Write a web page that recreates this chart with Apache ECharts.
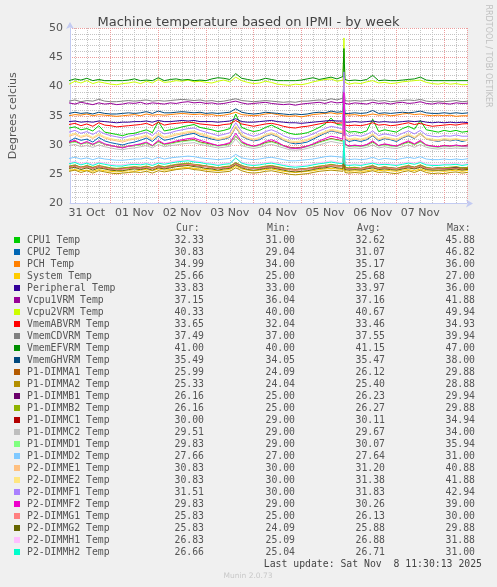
<!DOCTYPE html>
<html><head><meta charset="utf-8">
<script src="https://cdn.jsdelivr.net/npm/echarts@6/dist/echarts.min.js"></script>
<style>html,body{margin:0;padding:0;background:#F0F0F0;}#c{width:497px;height:587px;}</style>
</head><body><div id="c"></div>
<script>
// ---- categories / labels ----
const names = ['CPU1 Temp','CPU2 Temp','PCH Temp','System Temp','Peripheral Temp','Vcpu1VRM Temp','Vcpu2VRM Temp','VmemABVRM Temp','VmemCDVRM Temp','VmemEFVRM Temp','VmemGHVRM Temp','P1-DIMMA1 Temp','P1-DIMMA2 Temp','P1-DIMMB1 Temp','P1-DIMMB2 Temp','P1-DIMMC1 Temp','P1-DIMMC2 Temp','P1-DIMMD1 Temp','P1-DIMMD2 Temp','P2-DIMME1 Temp','P2-DIMME2 Temp','P2-DIMMF1 Temp','P2-DIMMF2 Temp','P2-DIMMG1 Temp','P2-DIMMG2 Temp','P2-DIMMH1 Temp','P2-DIMMH2 Temp'];
const colors = ['#00CC00','#0066B3','#FF8000','#FFCC00','#330099','#990099','#CCFF00','#FF0000','#808080','#008F00','#00487D','#B35A00','#B38F00','#6B006B','#8FB300','#B30000','#BEBEBE','#80FF80','#80C9FF','#FFC080','#FFE680','#AA80FF','#EE00CC','#FF8080','#666600','#FFBFFF','#00FFCC'];
const dayLabels = ['31 Oct','01 Nov','02 Nov','03 Nov','04 Nov','05 Nov','06 Nov','07 Nov'];
const yTicks = [20,25,30,35,40,45,50];
// legend statistics
const curVals = [32.33,30.83,34.99,25.66,33.83,37.15,40.33,33.65,37.49,41.00,35.49,25.99,25.33,26.16,26.16,30.00,29.51,29.83,27.66,30.83,30.83,31.51,29.83,25.83,25.83,26.83,26.66];
const minVals = [31.00,29.04,34.00,25.00,33.00,36.04,40.00,32.04,37.00,40.00,34.05,24.09,24.04,25.00,25.00,29.00,29.00,29.00,27.00,30.00,30.00,30.00,29.00,25.00,24.09,25.09,25.04];
const avgVals = [32.62,31.07,35.17,25.68,33.97,37.16,40.67,33.46,37.55,41.15,35.47,26.12,25.40,26.23,26.27,30.11,29.67,30.07,27.64,31.20,31.38,31.83,30.26,26.13,25.88,26.88,26.71];
const maxVals = [45.88,46.82,36.00,27.00,36.00,41.88,49.94,34.93,39.94,47.00,38.00,29.88,28.88,29.94,29.88,34.94,34.00,35.94,31.00,40.88,41.88,42.94,39.00,30.00,29.88,31.88,31.00];
// sample times, hours since 31 Oct 00:00
const hours = [3,6,9,12,15,18,21,24, 27,30,33,36,39,42,45,48, 51,54,57,60,63,66,69,72, 75,78,81,84,87,90,93,96, 99,102,105,108,111,114,117,120, 123,126,129,132,135,138,141,141.5,142,144, 147,150,153,156,159,162,165,168, 171,174,177,180,183,186,189,192, 195,198,201,204];
// ---- series values ----
const cpu1 = [32.9,33.1,32.6,32.8,32.4,33.3,32.2,32.0, 31.8,31.6,31.9,32.0,32.3,32.6,32.1,34.0, 32.4,32.6,32.8,33.1,33.3,33.5,33.0,32.8, 32.6,32.3,32.5,32.8,35.3,33.0,32.6,32.3, 32.5,33.0,33.4,32.9,32.4,32.0,31.8,31.9, 32.1,32.5,33.0,33.6,34.6,33.5,33.4,45.5,32.6,32.2, 32.3,32.1,32.4,34.4,32.3,32.6,32.4,32.2, 32.8,33.2,32.7,34.2,32.6,32.4,32.2,32.5, 32.3,32.5,32.2,32.33];
const cpu2 = [30.6,31.2,30.8,31.0,30.5,31.3,30.7,30.4, 30.2,30.0,30.3,30.5,30.8,31.2,30.6,31.5, 30.8,31.0,31.3,31.6,31.8,32.0,31.5,31.3, 31.0,30.8,31.0,31.3,33.0,31.5,31.0,30.7, 30.9,31.5,31.8,31.4,30.8,30.4,30.2,30.3, 30.5,31.0,31.5,32.0,32.4,32.2,31.9,46.0,31.0,30.6, 30.8,30.6,30.9,31.6,30.7,31.1,30.9,30.6, 31.2,31.6,31.1,32.0,31.0,30.8,30.6,30.9, 30.7,30.9,30.6,30.83];
const pch = [35.0,35.2,35.1,35.3,35.0,35.2,35.1,35.0, 34.9,35.0,35.1,35.2,35.0,35.3,35.1,35.2, 35.1,35.2,35.3,35.4,35.3,35.2,35.3,35.1, 35.2,35.0,35.1,35.3,35.6,35.2,35.1,35.0, 35.1,35.3,35.4,35.2,35.0,34.9,35.0,34.8, 35.0,35.2,35.3,35.4,35.5,35.3,35.4,35.8,35.2,35.1, 35.2,35.0,35.1,35.3,35.1,35.2,35.0,35.1, 35.3,35.4,35.2,35.3,35.1,35.0,35.1,35.0, 35.1,34.9,35.0,34.99];
const systemT = [25.7,25.8,25.6,25.7,25.5,25.8,25.6,25.5, 25.4,25.5,25.6,25.5,25.7,25.8,25.6,25.9, 25.7,25.8,25.9,26.1,26.2,26.0,25.9,25.8, 25.7,25.6,25.7,25.8,26.4,25.9,25.7,25.6, 25.7,25.8,25.9,25.7,25.5,25.4,25.3,25.4, 25.5,25.6,25.8,25.9,26.0,25.9,25.8,26.8,25.6,25.5, 25.6,25.5,25.6,25.8,25.6,25.7,25.6,25.5, 25.7,25.8,25.6,25.9,25.6,25.5,25.6,25.5, 25.6,25.7,25.5,25.66];
const peripheral = [34.0,34.1,33.9,34.0,33.9,34.1,34.0,33.9, 33.8,33.9,33.9,34.0,34.0,34.1,33.9,34.2, 34.0,34.0,34.1,34.2,34.1,34.2,34.0,34.0, 34.0,33.9,34.0,34.1,34.5,34.0,33.9,33.9, 34.0,34.1,34.2,34.0,33.9,33.8,33.8,33.7, 33.8,33.9,34.0,34.1,34.2,34.1,34.1,35.6,33.9,33.9, 34.0,33.9,34.0,34.1,33.9,34.0,33.9,33.9, 34.0,34.1,34.0,34.1,33.9,33.8,33.9,33.8, 33.9,33.8,33.9,33.83];
const vcpu1 = [37.2,37.0,37.3,37.1,36.9,37.2,37.0,37.1, 36.9,37.0,37.2,37.1,37.3,37.0,37.2,37.1, 37.0,37.2,37.1,37.3,37.4,37.2,37.3,37.1, 37.2,37.0,37.1,37.3,37.5,37.2,37.0,37.1, 37.2,37.3,37.1,37.0,36.9,37.0,36.8,37.0, 37.1,37.2,37.3,37.1,37.4,37.2,37.3,41.5,37.1,37.0, 37.2,37.1,37.0,37.3,37.1,37.2,37.0,37.2, 37.3,37.1,37.2,37.4,37.1,37.0,37.2,37.1, 37.0,37.2,37.1,37.15];
const vcpu2 = [40.4,40.9,40.6,41.0,40.5,40.8,40.6,40.4, 40.3,40.5,40.6,40.8,40.5,40.9,40.6,41.2, 40.7,40.8,41.0,40.9,41.1,40.8,40.9,40.7, 40.6,40.9,41.1,40.8,41.6,41.0,40.7,40.5, 40.6,40.9,40.7,40.4,40.3,40.2,40.4,40.3, 40.5,40.8,41.0,41.2,41.3,40.9,41.1,48.3,40.7,40.4, 40.6,40.5,40.8,41.0,40.6,40.7,40.5,40.6, 40.8,40.9,41.0,41.1,40.7,40.5,40.4,40.6, 40.4,40.5,40.3,40.33];
const vmemAB = [33.5,33.7,33.3,33.6,33.2,33.8,33.4,33.3, 33.1,33.2,33.3,33.4,33.5,33.7,33.3,33.9, 33.4,33.6,33.7,33.8,33.9,33.8,33.6,33.5, 33.4,33.3,33.5,33.6,34.2,33.6,33.4,33.2, 33.4,33.6,33.7,33.5,33.2,33.0,32.9,33.1, 33.2,33.4,33.6,33.8,33.9,33.7,33.8,34.6,33.4,33.3, 33.4,33.3,33.5,33.8,33.4,33.5,33.3,33.4, 33.6,33.8,33.5,33.7,33.4,33.2,33.3,33.4, 33.5,33.4,33.6,33.65];
const vmemCD = [37.5,37.7,37.4,37.6,37.5,37.8,37.5,37.4, 37.4,37.5,37.6,37.5,37.6,37.7,37.5,37.6, 37.5,37.6,37.7,37.8,37.7,37.6,37.7,37.5, 37.6,37.4,37.5,37.7,37.9,37.6,37.5,37.4, 37.5,37.6,37.5,37.4,37.3,37.4,37.3,37.5, 37.5,37.6,37.7,37.6,37.9,37.7,38.0,39.6,37.6,37.5, 37.6,37.5,37.6,37.7,37.5,37.6,37.4,37.5, 37.6,37.7,37.6,37.8,37.5,37.4,37.5,37.4, 37.5,37.6,37.4,37.49];
const vmemEF = [41.0,41.3,41.1,41.4,41.0,41.2,41.0,41.0, 41.0,41.0,41.1,41.3,41.0,41.1,41.0,41.5, 41.0,41.2,41.3,41.1,41.2,41.0,41.1,41.0, 41.3,41.5,41.4,41.2,42.2,41.4,41.2,41.0, 41.1,41.4,41.2,41.0,41.0,41.0,41.0,41.1, 41.3,41.5,41.2,41.4,41.6,41.3,41.7,46.5,41.2,41.0, 41.1,41.0,41.2,41.9,41.0,41.1,41.0,41.0, 41.1,41.2,41.3,41.6,41.1,41.0,41.0,41.0, 41.0,41.0,41.0,41.00];
const vmemGH = [35.4,35.6,35.4,35.5,35.3,35.6,35.4,35.3, 35.3,35.4,35.5,35.4,35.5,35.7,35.4,35.8, 35.5,35.5,35.6,35.7,35.6,35.5,35.6,35.4, 35.5,35.4,35.5,35.6,36.2,35.6,35.4,35.3, 35.4,35.6,35.5,35.4,35.3,35.2,35.3,35.2, 35.3,35.5,35.6,35.5,35.8,35.6,35.7,37.5,35.4,35.4, 35.5,35.4,35.5,35.9,35.4,35.5,35.4,35.5, 35.6,35.5,35.6,35.8,35.5,35.4,35.4,35.5, 35.4,35.5,35.4,35.49];
const dimmA1 = [26.2,26.4,26.1,26.3,26.0,26.3,26.1,25.9, 25.8,25.9,26.0,26.1,26.0,26.2,26.0,26.3, 26.1,26.3,26.5,26.6,26.7,26.5,26.4,26.3, 26.1,26.0,26.1,26.2,26.8,26.3,26.1,26.0, 26.0,26.2,26.3,26.1,25.9,25.8,25.7,25.8, 25.9,26.0,26.2,26.3,26.5,26.4,26.3,29.5,26.0,25.9, 26.0,25.9,26.1,26.3,26.0,26.1,26.0,25.9, 26.1,26.3,26.1,26.4,26.0,25.9,26.0,25.9, 26.0,26.1,25.9,25.99];
const dimmA2 = [25.5,25.7,25.3,25.6,25.2,25.6,25.4,25.2, 25.1,25.2,25.3,25.4,25.3,25.5,25.2,25.6, 25.4,25.6,25.8,25.9,26.0,25.8,25.7,25.5, 25.4,25.3,25.4,25.5,26.1,25.6,25.3,25.2, 25.3,25.5,25.6,25.4,25.2,25.0,24.9,25.0, 25.1,25.3,25.5,25.6,25.7,25.6,25.5,28.5,25.3,25.2, 25.3,25.2,25.4,25.6,25.3,25.4,25.2,25.1, 25.4,25.6,25.3,25.7,25.3,25.1,25.2,25.1, 25.3,25.4,25.2,25.33];
const dimmB1 = [26.3,26.5,26.2,26.4,26.1,26.4,26.2,26.0, 25.9,26.0,26.1,26.2,26.1,26.3,26.1,26.4, 26.2,26.4,26.6,26.7,26.8,26.6,26.5,26.4, 26.2,26.1,26.2,26.3,26.9,26.4,26.2,26.1, 26.1,26.3,26.4,26.2,26.0,25.9,25.8,25.9, 26.0,26.1,26.3,26.4,26.6,26.5,26.4,29.6,26.1,26.0, 26.1,26.0,26.2,26.4,26.1,26.2,26.1,26.0, 26.2,26.4,26.2,26.5,26.1,26.0,26.1,26.0, 26.1,26.2,26.1,26.16];
const dimmB2 = [26.4,26.6,26.2,26.5,26.2,26.5,26.3,26.1, 26.0,26.1,26.2,26.3,26.2,26.4,26.1,26.5, 26.3,26.5,26.7,26.8,26.9,26.7,26.6,26.4, 26.3,26.1,26.3,26.4,27.0,26.5,26.2,26.1, 26.2,26.4,26.5,26.3,26.1,25.9,25.8,25.9, 26.0,26.2,26.4,26.5,26.7,26.5,26.4,29.5,26.2,26.1, 26.2,26.0,26.3,26.5,26.1,26.3,26.1,26.0, 26.3,26.5,26.2,26.6,26.2,26.0,26.1,26.1, 26.2,26.3,26.1,26.16];
const dimmC1 = [30.4,30.6,30.2,30.4,30.1,30.5,30.1,29.9, 29.7,29.6,29.8,29.9,30.1,30.3,29.9,30.6, 30.1,30.3,30.5,30.7,30.8,30.9,30.5,30.3, 30.1,29.9,30.0,30.2,31.5,30.4,30.0,29.8, 30.0,30.4,30.6,30.3,29.9,29.6,29.5,29.6, 29.8,30.1,30.5,30.8,31.1,30.9,30.7,34.5,30.1,29.8, 29.9,29.8,30.0,30.5,29.9,30.1,29.9,29.8, 30.2,30.5,30.1,30.6,30.0,29.8,29.7,29.9, 29.8,29.9,29.8,30.00];
const dimmC2 = [29.9,30.1,29.7,29.9,29.6,30.0,29.7,29.5, 29.3,29.2,29.4,29.5,29.7,29.9,29.5,30.1, 29.7,29.9,30.0,30.2,30.3,30.4,30.1,29.9, 29.7,29.5,29.6,29.8,31.0,29.9,29.6,29.4, 29.6,29.9,30.1,29.8,29.5,29.2,29.1,29.2, 29.4,29.7,30.0,30.3,30.6,30.4,30.2,33.5,29.7,29.4, 29.5,29.4,29.6,30.0,29.5,29.7,29.5,29.4, 29.7,30.0,29.6,30.1,29.6,29.4,29.3,29.5, 29.4,29.5,29.4,29.51];
const dimmD1 = [30.3,30.5,30.1,30.4,30.0,30.5,30.1,29.9, 29.7,29.6,29.8,29.9,30.0,30.3,29.8,30.5, 30.0,30.2,30.4,30.6,30.7,30.8,30.4,30.2, 30.0,29.8,29.9,30.1,31.6,30.3,29.9,29.7, 29.9,30.3,30.5,30.2,29.8,29.5,29.4,29.5, 29.7,30.0,30.4,30.7,31.0,30.8,30.6,35.5,30.0,29.7, 29.8,29.7,29.9,30.4,29.8,30.0,29.8,29.7, 30.1,30.4,30.0,30.5,29.9,29.7,29.6,29.8, 29.7,29.9,29.7,29.83];
const dimmD2 = [27.7,27.9,27.6,27.8,27.5,27.8,27.6,27.5, 27.4,27.4,27.5,27.6,27.6,27.8,27.5,27.9, 27.6,27.8,27.9,28.0,28.1,28.0,27.8,27.7, 27.6,27.5,27.6,27.7,28.4,27.8,27.6,27.5, 27.6,27.8,27.9,27.7,27.5,27.3,27.3,27.4, 27.5,27.6,27.8,28.0,28.1,28.0,27.9,30.5,27.6,27.5, 27.6,27.5,27.6,27.9,27.5,27.7,27.6,27.5, 27.7,27.9,27.7,28.0,27.6,27.5,27.5,27.6, 27.5,27.6,27.5,27.66];
const dimmE1 = [31.5,31.8,31.3,31.6,31.1,31.7,31.2,30.9, 30.7,30.5,30.8,31.0,31.2,31.5,30.9,31.8, 31.2,31.4,31.7,31.9,32.1,32.2,31.8,31.5, 31.2,30.9,31.1,31.4,33.0,31.6,31.1,30.8, 31.1,31.6,31.9,31.5,30.9,30.5,30.4,30.5, 30.8,31.2,31.7,32.1,32.5,32.3,32.0,40.5,31.2,30.8, 31.0,30.8,31.1,31.7,30.9,31.2,31.0,30.8, 31.3,31.7,31.2,31.8,31.0,30.8,30.7,30.9, 30.8,31.0,30.8,30.83];
const dimmE2 = [31.7,32.0,31.5,31.8,31.3,31.9,31.4,31.1, 30.9,30.7,31.0,31.2,31.4,31.7,31.1,32.0, 31.4,31.6,31.9,32.1,32.3,32.4,32.0,31.7, 31.4,31.1,31.3,31.6,33.3,31.8,31.3,31.0, 31.3,31.8,32.1,31.7,31.1,30.7,30.6,30.7, 31.0,31.4,31.9,32.3,32.7,32.5,32.2,41.5,31.4,31.0, 31.2,31.0,31.3,31.9,31.1,31.4,31.2,31.0, 31.5,31.9,31.4,32.0,31.2,31.0,30.9,31.1, 31.0,31.1,30.9,30.83];
const dimmF1 = [32.2,32.5,32.0,32.3,31.8,32.4,31.9,31.6, 31.4,31.2,31.5,31.7,31.9,32.2,31.6,32.5, 31.9,32.1,32.4,32.6,32.8,32.9,32.5,32.2, 31.9,31.6,31.8,32.1,33.8,32.3,31.8,31.5, 31.8,32.3,32.6,32.2,31.6,31.2,31.1,31.2, 31.5,31.9,32.4,32.8,33.2,33.0,32.7,42.5,31.9,31.5, 31.7,31.5,31.8,32.4,31.6,31.9,31.7,31.5, 32.0,32.4,31.9,32.5,31.7,31.5,31.4,31.6, 31.5,31.7,31.5,31.51];
const dimmF2 = [30.5,30.8,30.2,30.6,30.1,30.7,30.2,29.9, 29.7,29.5,29.8,30.0,30.2,30.5,29.9,30.8, 30.2,30.4,30.7,30.9,31.1,31.2,30.8,30.5, 30.2,29.9,30.1,30.4,32.0,30.6,30.1,29.8, 30.1,30.6,30.9,30.5,29.9,29.5,29.4,29.5, 29.8,30.2,30.7,31.1,31.5,31.3,31.0,39.0,30.2,29.8, 30.0,29.8,30.1,30.7,29.9,30.2,30.0,29.8, 30.3,30.7,30.2,30.8,30.0,29.8,29.7,29.9, 29.8,30.0,29.8,29.83];
const dimmG1 = [26.2,26.4,26.1,26.3,26.0,26.4,26.1,25.9, 25.8,25.9,26.0,26.1,26.0,26.2,26.0,26.3, 26.1,26.3,26.5,26.6,26.7,26.6,26.4,26.3, 26.1,26.0,26.1,26.2,26.8,26.3,26.1,26.0, 26.0,26.2,26.3,26.1,25.9,25.8,25.7,25.8, 25.9,26.0,26.2,26.4,26.5,26.4,26.3,29.6,26.0,25.9, 26.0,25.9,26.1,26.3,26.0,26.1,26.0,25.9, 26.1,26.3,26.1,26.4,26.0,25.9,25.9,25.9, 25.9,26.0,25.8,25.83];
const dimmG2 = [26.0,26.2,25.8,26.1,25.7,26.1,25.9,25.7, 25.6,25.6,25.8,25.9,25.8,26.0,25.7,26.1, 25.9,26.1,26.3,26.4,26.5,26.3,26.2,26.0, 25.9,25.7,25.9,26.0,26.6,26.1,25.8,25.7, 25.8,26.0,26.1,25.9,25.7,25.5,25.4,25.5, 25.6,25.8,26.0,26.1,26.3,26.1,26.0,29.5,25.8,25.7, 25.8,25.7,25.9,26.1,25.8,25.9,25.8,25.7, 25.9,26.1,25.9,26.2,25.8,25.7,25.7,25.7, 25.8,25.9,25.7,25.83];
const dimmH1 = [27.0,27.2,26.8,27.1,26.7,27.1,26.9,26.7, 26.6,26.6,26.8,26.9,26.8,27.0,26.7,27.1, 26.9,27.1,27.3,27.4,27.5,27.3,27.2,27.0, 26.9,26.7,26.9,27.0,27.7,27.1,26.8,26.7, 26.8,27.0,27.1,26.9,26.7,26.5,26.4,26.5, 26.6,26.8,27.0,27.1,27.3,27.1,27.0,31.5,26.8,26.7, 26.8,26.7,26.9,27.1,26.8,26.9,26.8,26.7, 26.9,27.1,26.9,27.2,26.8,26.7,26.7,26.8, 26.8,26.9,26.7,26.83];
const dimmH2 = [26.8,27.0,26.6,26.9,26.5,26.9,26.7,26.5, 26.4,26.4,26.6,26.7,26.6,26.8,26.5,26.9, 26.7,26.9,27.1,27.2,27.3,27.1,27.0,26.8, 26.7,26.5,26.7,26.8,27.8,26.9,26.6,26.5, 26.6,26.8,26.9,26.7,26.5,26.3,26.2,26.3, 26.4,26.6,26.8,26.9,27.1,26.9,26.8,30.8,26.6,26.5, 26.6,26.5,26.7,26.9,26.6,26.7,26.6,26.5, 26.7,26.9,26.7,27.0,26.6,26.5,26.5,26.6, 26.6,26.7,26.5,26.66];
const seriesValues = [cpu1,cpu2,pch,systemT,peripheral,vcpu1,vcpu2,vmemAB,vmemCD,vmemEF,vmemGH,dimmA1,dimmA2,dimmB1,dimmB2,dimmC1,dimmC2,dimmD1,dimmD2,dimmE1,dimmE2,dimmF1,dimmF2,dimmG1,dimmG2,dimmH1,dimmH2];

// ---- chart ----
const chart = echarts.init(document.getElementById('c'), null, {renderer: 'canvas'});
const SANS = '"DejaVu Sans", sans-serif';
const MONO = '"DejaVu Sans Mono", monospace';
const xMin = 3.5 / 24, xMax = 203.5 / 24;
const monoStyle = {fontFamily: MONO, fontSize: 9.8, color: '#555', lineHeight: 12};
const series = seriesValues.map((vals, i) => ({
  name: names[i], type: 'line', xAxisIndex: 0, yAxisIndex: 0,
  showSymbol: false, symbol: 'none', animation: false,
  lineStyle: {width: 1, color: colors[i]}, itemStyle: {color: colors[i]},
  data: vals.map((v, k) => [hours[k] / 24, v])
}));
chart.setOption({
  backgroundColor: '#F0F0F0',
  animation: false,
  color: colors,
  title: {text: 'Machine temperature based on IPMI - by week', left: 'center', top: 11,
    textStyle: {fontFamily: SANS, fontSize: 13, fontWeight: 'normal', color: '#444'}},
  grid: {left: 67, top: 28, width: 400, height: 175.5, show: true, backgroundColor: '#FFFFFF', borderWidth: 0, containLabel: false},
  xAxis: [{
    type: 'value', min: xMin, max: xMax, minInterval: 0.25, maxInterval: 0.25, splitNumber: 33,
    axisLine: {show: true, lineStyle: {color: '#C3CBF2', width: 1}, symbol: ['none', 'arrow'], symbolSize: [6, 7], symbolOffset: [0, 6]},
    axisTick: {show: false},
    axisLabel: {margin: 4, fontFamily: SANS, fontSize: 11, color: '#555',
      formatter: v => { const d = Math.floor(v + 1e-9); return Math.abs(v - d - 0.5) < 1e-6 ? (dayLabels[d] || '') : ''; }},
    splitLine: {show: true, lineStyle: {color: '#C4C4C4', type: [1, 1], width: 1}}
  }, {
    type: 'value', min: xMin, max: xMax, minInterval: 1, maxInterval: 1, splitNumber: 8,
    axisLine: {show: false}, axisTick: {show: false}, axisLabel: {show: false},
    splitLine: {show: true, lineStyle: {color: '#EC9C9C', type: [1, 1], width: 1}}
  }],
  yAxis: {
    type: 'value', min: yTicks[0], max: yTicks[yTicks.length - 1], interval: 5,
    name: 'Degrees celcius', nameLocation: 'middle', nameGap: 51,
    nameTextStyle: {fontFamily: SANS, fontSize: 11, color: '#555'},
    axisLine: {show: true, lineStyle: {color: '#C3CBF2', width: 1}, symbol: ['none', 'arrow'], symbolSize: [6, 7], symbolOffset: [0, 6]},
    axisTick: {show: false},
    axisLabel: {margin: 7, fontFamily: SANS, fontSize: 11, color: '#555'},
    splitLine: {show: true, lineStyle: {color: '#EC9C9C', type: [1, 1], width: 1}},
    minorTick: {show: false, splitNumber: 5},
    minorSplitLine: {show: true, lineStyle: {color: '#C4C4C4', type: [1, 1], width: 1}}
  },
  legend: {
    type: 'plain', orient: 'vertical', left: 14, top: 234, padding: 0, itemGap: 0,
    itemWidth: 6, itemHeight: 6, icon: 'rect', selectedMode: false,
    data: names,
    textStyle: Object.assign({}, monoStyle, {
      rich: {
        n: Object.assign({}, monoStyle, {width: 127, padding: [0, 0, 0, 2]}),
        c: Object.assign({}, monoStyle, {width: 50, align: 'right'}),
        m: Object.assign({}, monoStyle, {width: 91, align: 'right'}),
        a: Object.assign({}, monoStyle, {width: 90, align: 'right'}),
        x: Object.assign({}, monoStyle, {width: 90, align: 'right'})
      }
    }),
    formatter: name => {
      const i = names.indexOf(name);
      return '{n|' + name + '}{c|' + curVals[i].toFixed(2) + '}{m|' + minVals[i].toFixed(2) + '}{a|' + avgVals[i].toFixed(2) + '}{x|' + maxVals[i].toFixed(2) + '}';
    }
  },
  graphic: [
    {type: 'text', x: 176, y: 228, style: {text: 'Cur:', font: '9.8px ' + MONO, fill: '#555', textVerticalAlign: 'middle'}},
    {type: 'text', x: 267, y: 228, style: {text: 'Min:', font: '9.8px ' + MONO, fill: '#555', textVerticalAlign: 'middle'}},
    {type: 'text', x: 357, y: 228, style: {text: 'Avg:', font: '9.8px ' + MONO, fill: '#555', textVerticalAlign: 'middle'}},
    {type: 'text', x: 447, y: 228, style: {text: 'Max:', font: '9.8px ' + MONO, fill: '#555', textVerticalAlign: 'middle'}},
    {type: 'text', x: 482, y: 564, style: {text: 'Last update: Sat Nov  8 11:30:13 2025', font: '9.8px ' + MONO, fill: '#444', textAlign: 'right', textVerticalAlign: 'middle'}},
    {type: 'text', x: 248, y: 576, style: {text: 'Munin 2.0.73', font: '7.5px ' + SANS, fill: '#C8C8C8', textAlign: 'center', textVerticalAlign: 'middle'}},
    {type: 'text', x: 488, y: 56, rotation: -Math.PI / 2, style: {text: 'RRDTOOL / TOBI OETIKER', font: '8px ' + SANS, fill: '#C0C0C0', textAlign: 'center', textVerticalAlign: 'middle'}}
  ],
  series: series
});
</script></body></html>
